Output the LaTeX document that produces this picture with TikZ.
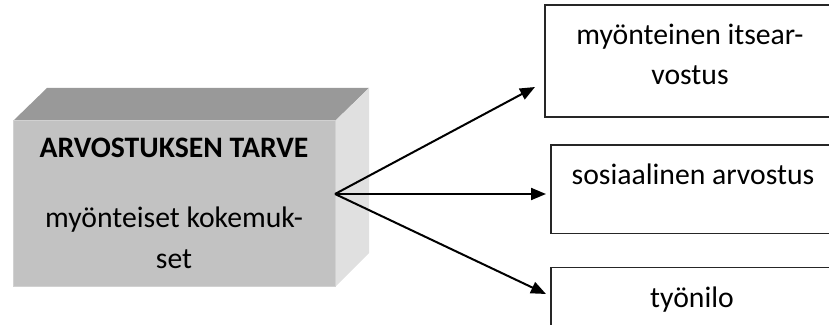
\documentclass[tikz,border=0pt]{standalone}
\usepackage{fontspec}
\setmainfont{Carlito}
\usetikzlibrary{arrows.meta}
\begin{document}
\begin{tikzpicture}[x=1pt,y=1pt,
  txt/.style={anchor=base,inner sep=0pt,font=\fontsize{29.7}{40}\selectfont},
  outbox/.style={draw=black!85,line width=1.5pt,fill=white,anchor=south west,inner sep=0pt},
  conn/.style={line width=2pt,-{Triangle[length=15pt,width=12pt]}}]
\useasboundingbox (0,0) rectangle (829,324);
\clip (0,0) rectangle (829,324);
% cube
\fill[black!40] (13,203) -- (47,236) -- (369,236) -- (335,203) -- cycle;
\fill[black!12] (335,203) -- (369,236) -- (369,71) -- (335,37) -- cycle;
\node[fill=black!24,draw=black!18,line width=1pt,anchor=south west,minimum width=322pt,minimum height=166pt,inner sep=0pt] (front) at (13,37) {};
\node[txt,font=\fontsize{29.7}{40}\selectfont\bfseries] (t1) at (174,166) {ARVOSTUKSEN TARVE};
\node[txt] (t2) at (174,96) {myönteiset kokemuk-};
\node[txt] (t3) at (174,56) {set};
% boxes
\node[outbox,minimum width=291pt,minimum height=112pt] (b1) at (544,206) {};
\node[txt] (b1a) at (690,279) {myönteinen itsear-};
\node[txt] (b1b) at (690,239) {vostus};
\node[outbox,minimum width=287pt,minimum height=88pt] (b2) at (550,90) {};
\node[txt] (b2a) at (693,139) {sosiaalinen arvostus};
\node[outbox,minimum width=287pt,minimum height=80pt] (b3) at (550,-24) {};
\node[txt] (b3a) at (692,17) {työnilo};
% arrows
\coordinate (src) at (335,130);
\coordinate (e1) at (535,237);
\coordinate (e2) at (546,130);
\coordinate (e3) at (546,30);
\draw[conn] (src) -- (e1);
\draw[conn] (src) -- (e2);
\draw[conn] (src) -- (e3);
\end{tikzpicture}
\end{document}
